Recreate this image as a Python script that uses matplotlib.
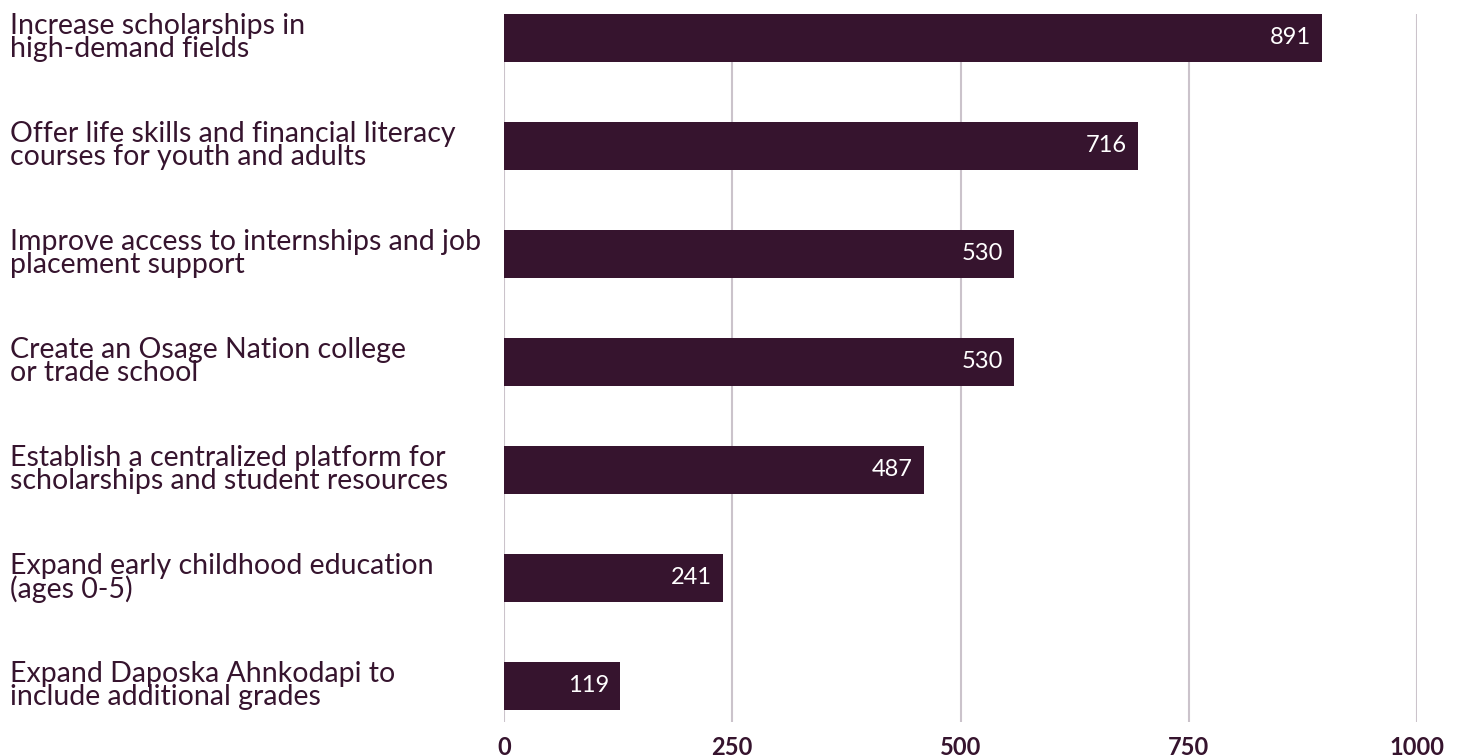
import matplotlib
matplotlib.use("Agg")
from matplotlib import pyplot as plt
from matplotlib.transforms import blended_transform_factory

# categories, top to bottom
categories = [
    "Increase scholarships in\nhigh-demand fields",
    "Offer life skills and financial literacy\ncourses for youth and adults",
    "Improve access to internships and job\nplacement support",
    "Create an Osage Nation college\nor trade school",
    "Establish a centralized platform for\nscholarships and student resources",
    "Expand early childhood education\n(ages 0-5)",
    "Expand Daposka Ahnkodapi to\ninclude additional grades",
]
# bar lengths as drawn in the picture
bar_lengths = [896, 694, 559, 559, 460, 240, 127]
# printed value labels
value_labels = ["891", "716", "530", "530", "487", "241", "119"]
xticks = [0, 250, 500, 750, 1000]

dark = "#36142e"
grid = "#cbc3cb"
plt.rcParams["font.family"] = ["Lato", "DejaVu Sans"]

fig = plt.figure(figsize=(14.66, 7.56), dpi=100)
ax = fig.add_axes([504/1466, 34/756, 913/1466, 708/756])

ypos = list(range(len(categories)))
ax.barh(ypos, bar_lengths, height=0.445, color=dark, zorder=3)

# value labels inside the bar ends
for y, w, lab in zip(ypos, bar_lengths, value_labels):
    ax.annotate(lab, (w, y), xytext=(-8, 0), textcoords="offset points",
                ha="right", va="center", color="white", fontsize=17, zorder=4)

# category labels at the left edge of the figure
tr = blended_transform_factory(fig.transFigure, ax.transData)
for y, c in zip(ypos, categories):
    ax.text(10/1466, y, c, transform=tr, ha="left", va="center",
            fontsize=20.5, color=dark, linespacing=0.86)

ax.set_xlim(0, 1000)
ax.set_ylim(6.336, -0.222)
ax.set_xticks(xticks)
ax.set_xticklabels([str(t) for t in xticks], fontweight="bold", fontsize=17, color=dark)
ax.tick_params(axis="x", length=0, pad=10)
ax.set_yticks([])
for t in xticks:
    ax.axvline(t, color=grid, lw=1.5, zorder=1)
for s in ax.spines.values():
    s.set_visible(False)

fig.savefig("out.png", dpi=100)
